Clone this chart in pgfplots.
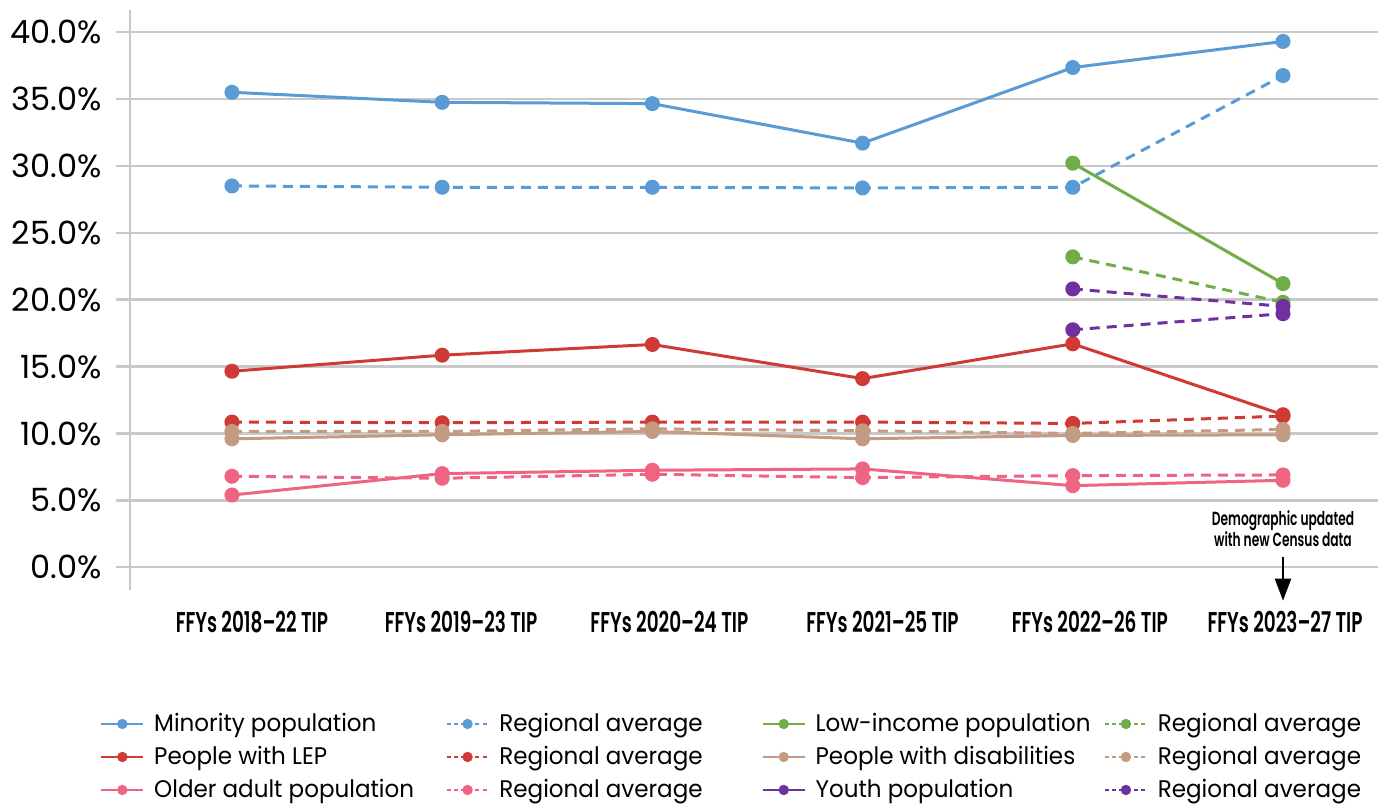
\documentclass[border=0pt]{standalone}
\usepackage{fontspec}
\setmainfont{Poppins}
\newfontfamily\condfont[FakeStretch=0.645]{Poppins SemiBold}
\newfontfamily\legfont[FakeStretch=0.96]{Poppins}
\usepackage{pgfplots}
\pgfplotsset{compat=1.18}
\usetikzlibrary{arrows.meta}

\definecolor{minblue}{RGB}{91,155,213}
\definecolor{lepred}{RGB}{208,58,52}
\definecolor{lowgreen}{RGB}{112,173,71}
\definecolor{disbrown}{RGB}{195,154,130}
\definecolor{oldpink}{RGB}{238,100,130}
\definecolor{youthpurple}{RGB}{112,48,160}
\definecolor{gridgray}{RGB}{200,200,200}

\pgfplotsset{
  ser/.style={line width=1.5pt, mark=*, mark size=3pt, mark options={solid}},
  avg/.style={ser, dash pattern=on 5pt off 3.5pt},
  legser/.style={line width=1.3pt, mark=*, mark size=1.9pt, mark options={solid}},
  legavg/.style={legser, dash pattern=on 2pt off 1.6pt},
}

\begin{document}
\begin{tikzpicture}
\path[use as bounding box] (0,0) rectangle (692.5pt,402pt);
\begin{axis}[
  at={(65pt,107pt)}, anchor=south west,
  scale only axis, width=624pt, height=290pt,
  xmin=-0.485, xmax=5.452, ymin=-1.7, ymax=41.65,
  separate axis lines,
  axis x line*=bottom, axis y line*=left,
  x axis line style={draw=none},
  y axis line style={draw=gridgray, line width=1.2pt},
  % program labels sit slightly right of their data columns
  xtick={0.095,1.09,2.081,3.095,4.081,5.01},
  xticklabels={FFYs 2018–22 TIP, FFYs 2019–23 TIP, FFYs 2020–24 TIP,
               FFYs 2021–25 TIP, FFYs 2022–26 TIP, FFYs 2023–27 TIP},
  xtick style={draw=none, /pgfplots/major tick length=0pt},
  xticklabel style={font=\condfont\fontsize{14.3}{16}\selectfont,
                    anchor=base, inner sep=0pt, yshift=-14pt},
  ytick={0,5,...,40},
  tick align=outside,
  ytick style={draw=gridgray, line width=1.2pt},
  major tick length=7pt,
  ymajorgrids,
  grid style={draw=gridgray, line width=1.2pt},
  /pgf/number format/assume math mode=true,
  yticklabel={\pgfmathprintnumber[fixed,fixed zerofill,precision=1]{\tick}\%},
  yticklabel style={font=\fontsize{16}{18}\selectfont, anchor=east,
                    inner sep=0pt, xshift=-7pt},
  clip=false,
  legend columns=4,
  legend cell align=left,
  legend image code/.code={%
    \draw[mark repeat=2,mark phase=2,#1]
      plot coordinates {(0pt,0pt) (10.5pt,0pt) (21pt,0pt)};},
  legend style={
    at={(-0.024,-0.2103)}, anchor=north west,
    draw=none, fill=none, inner sep=0pt, outer sep=0pt,
    font=\legfont\fontsize{12}{14}\selectfont,
    nodes={inner sep=0pt, text height=10pt, text depth=2pt},
    row sep=4.5pt,
    /tikz/every odd column/.style={column sep=4.8pt},
    /tikz/every even column/.style={column sep=0pt},
  },
]

% Minority population and its regional average
\addplot[ser, color=minblue, forget plot] coordinates {
  (0,35.5) (1,34.75) (2,34.65) (3,31.7) (4,37.35) (5,39.3)};
\addplot[avg, color=minblue, forget plot] coordinates {
  (0,28.5) (1,28.4) (2,28.4) (3,28.35) (4,28.4) (5,36.75)};
% Low-income population (new in the last two programs)
\addplot[ser, color=lowgreen, forget plot] coordinates {(4,30.2) (5,21.2)};
\addplot[avg, color=lowgreen, forget plot] coordinates {(4,23.2) (5,19.8)};
% People with limited English proficiency
\addplot[ser, color=lepred, forget plot] coordinates {
  (0,14.65) (1,15.85) (2,16.65) (3,14.1) (4,16.7) (5,11.4)};
\addplot[avg, color=lepred, forget plot] coordinates {
  (0,10.85) (1,10.8) (2,10.85) (3,10.85) (4,10.75) (5,11.3)};
% People with disabilities
\addplot[ser, color=disbrown, forget plot] coordinates {
  (0,9.6) (1,9.9) (2,10.15) (3,9.6) (4,9.85) (5,9.9)};
\addplot[avg, color=disbrown, forget plot] coordinates {
  (0,10.15) (1,10.15) (2,10.35) (3,10.2) (4,10.0) (5,10.3)};
% Older adult population
\addplot[ser, color=oldpink, forget plot] coordinates {
  (0,5.4) (1,7.0) (2,7.25) (3,7.35) (4,6.1) (5,6.5)};
\addplot[avg, color=oldpink, forget plot] coordinates {
  (0,6.8) (1,6.65) (2,6.95) (3,6.7) (4,6.85) (5,6.9)};
% Youth population
\addplot[avg, color=youthpurple, forget plot] coordinates {(4,20.8) (5,19.5)};
\addplot[avg, color=youthpurple, forget plot] coordinates {(4,17.75) (5,18.95)};

% Legend, row by row
\addlegendimage{legser, color=minblue}
\addlegendentry{\makebox[145.5pt][l]{Minority population}}
\addlegendimage{legavg, color=minblue}
\addlegendentry{\makebox[131pt][l]{Regional average}}
\addlegendimage{legser, color=lowgreen}
\addlegendentry{\makebox[144pt][l]{Low-income population}}
\addlegendimage{legavg, color=lowgreen}
\addlegendentry{Regional average}
\addlegendimage{legser, color=lepred}
\addlegendentry{People with LEP}
\addlegendimage{legavg, color=lepred}
\addlegendentry{Regional average}
\addlegendimage{legser, color=disbrown}
\addlegendentry{People with disabilities}
\addlegendimage{legavg, color=disbrown}
\addlegendentry{Regional average}
\addlegendimage{legser, color=oldpink}
\addlegendentry{Older adult population}
\addlegendimage{legavg, color=oldpink}
\addlegendentry{Regional average}
\addlegendimage{legser, color=youthpurple}
\addlegendentry{Youth population}
\addlegendimage{legavg, color=youthpurple}
\addlegendentry{Regional average}

% Note on the last program
\node[align=center, inner sep=0pt,
      font=\condfont\fontsize{9.5}{10.5}\selectfont]
  at (axis cs:5,2.85) {Demographic updated\\with new Census data};
\draw[line width=1pt, -{Triangle[width=8pt,length=11pt]}]
  (axis cs:5,0.75) -- (axis cs:5,-2.5);
\end{axis}
\end{tikzpicture}
\end{document}
